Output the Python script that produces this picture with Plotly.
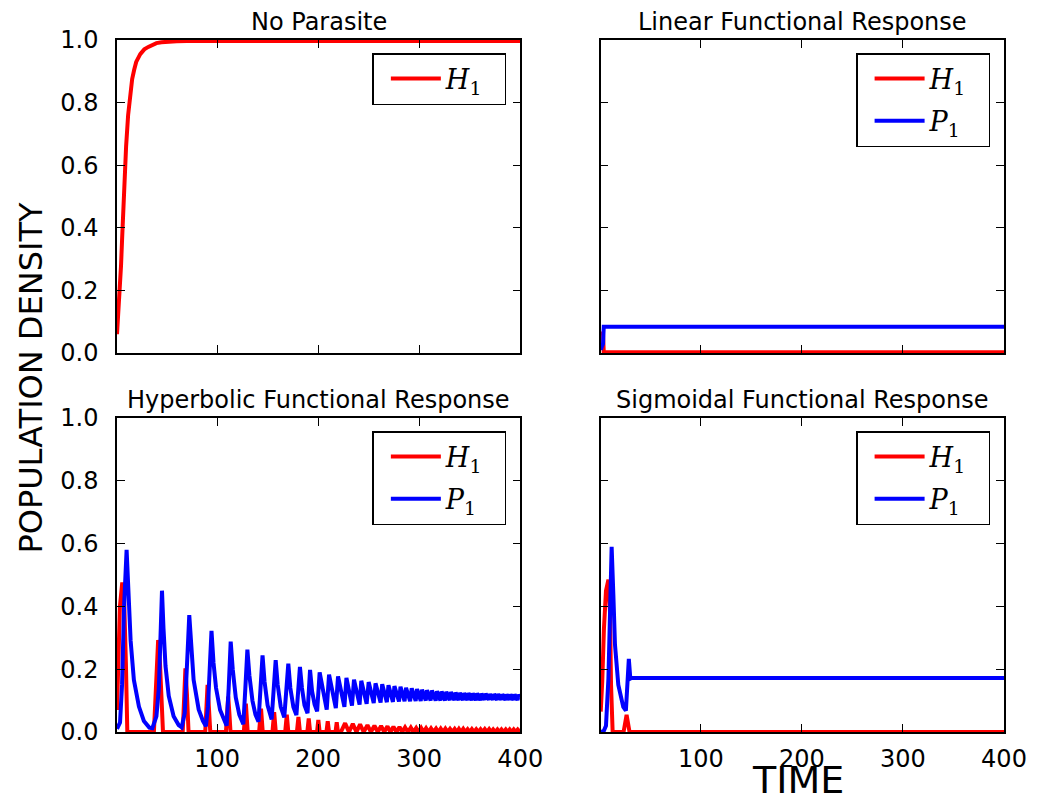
import plotly.graph_objects as go

# ---------------- data ----------------
# No Parasite
np_t = [1, 2, 3, 4, 5, 6, 7, 8, 9, 10, 12, 14, 16, 18, 20, 24, 28, 32, 36, 40, 45, 50, 60, 70, 100, 200, 300, 400]
np_H = [0.06, 0.11, 0.16, 0.21, 0.28, 0.36, 0.45, 0.53, 0.60, 0.66, 0.76, 0.83, 0.875, 0.905, 0.93, 0.955,
        0.97, 0.978, 0.985, 0.99, 0.993, 0.995, 0.996, 0.997, 0.997, 0.997, 0.997, 0.997]

# Linear functional response
lin_t = [1, 3.3, 4, 400]
lin_H = [0.065, 0.06, 0.002, 0.002]
lin_P = [0.01, 0.03, 0.084, 0.084]

# Hyperbolic functional response - first cycles traced point by point
hyp_P_t0 = [1, 4, 6, 8, 10.5, 12.5, 14.5, 17.7, 22.7, 27.6, 33, 36, 40, 42.4, 44, 45.5, 47, 49, 52.2, 57, 62, 65,
            68, 70, 71.5, 72.5, 74.5, 76.8, 81.8, 86, 89, 91, 93, 94.5, 96.5, 99, 103, 106.5, 109.5, 111.5, 113.5,
            115.5, 118.5, 122, 126, 128, 130, 132, 135, 138, 141, 143, 145, 147, 150, 154, 156.2, 158, 160, 163,
            166.5, 168.8, 170.5, 172.5, 175.5, 178.5, 180.5, 182, 184, 186.5, 189.5, 191, 192, 194, 196.5, 199]
hyp_P0 = [0.01, 0.03, 0.15, 0.40, 0.58, 0.42, 0.29, 0.166, 0.081, 0.035, 0.014, 0.012, 0.05, 0.14, 0.34, 0.45,
          0.33, 0.21, 0.115, 0.05, 0.022, 0.015, 0.06, 0.17, 0.30, 0.372, 0.26, 0.166, 0.072, 0.035, 0.018, 0.08,
          0.22, 0.322, 0.22, 0.14, 0.07, 0.038, 0.02, 0.14, 0.288, 0.2, 0.11, 0.055, 0.025, 0.14, 0.262, 0.18, 0.1,
          0.055, 0.033, 0.14, 0.244, 0.16, 0.085, 0.04, 0.14, 0.229, 0.15, 0.08, 0.047, 0.14, 0.218, 0.14, 0.08,
          0.054, 0.14, 0.207, 0.14, 0.085, 0.06, 0.14, 0.198, 0.13, 0.088, 0.066]
# later cycles: peaks and the trough that follows each
hyp_peak_t = [201.5, 210.8, 219.7, 228, 235.5, 242.7, 250, 256.8, 263.4, 269.6, 275.5, 281.5, 287, 292.6, 297.9,
              302.8, 307.7, 312.6, 317.6, 322.2, 326.8, 331.4, 336, 340.2, 344.5, 348.8, 353, 357.3, 361.6, 365.8,
              370.1, 374.1, 378.3, 382.3, 386.5, 390.4, 394.4, 398.4]
hyp_peak_P = [0.19, 0.183, 0.177, 0.172, 0.167, 0.163, 0.159, 0.155, 0.152, 0.149, 0.146, 0.144, 0.141, 0.139,
              0.137, 0.135, 0.133, 0.132, 0.13, 0.129, 0.128, 0.127, 0.126, 0.125, 0.124, 0.124, 0.123, 0.123,
              0.122, 0.122, 0.121, 0.121, 0.121, 0.12, 0.12, 0.12, 0.12, 0.119]
hyp_trough_t = [208.5, 217.5, 226, 233.5, 241, 248, 255, 261.8, 268, 274, 280, 285.5, 291, 296.5, 301.5, 306.5,
                311.3, 316.3, 321, 325.6, 330.2, 334.8, 339, 343.3, 347.6, 351.8, 356.1, 360.4, 364.6, 368.9, 373,
                377.1, 381.2, 385.3, 389.3, 393.3, 397.3, 400]
hyp_trough_P = [0.071, 0.076, 0.08, 0.084, 0.087, 0.09, 0.092, 0.094, 0.095, 0.096, 0.097, 0.098, 0.098, 0.099,
                0.099, 0.1, 0.1, 0.1, 0.1, 0.1, 0.101, 0.101, 0.101, 0.101, 0.101, 0.101, 0.101, 0.101, 0.102,
                0.102, 0.102, 0.102, 0.102, 0.102, 0.102, 0.102, 0.102, 0.11]

hyp_H_t0 = [1, 2, 3.9, 6.2, 8, 9.8, 11.2, 37.5, 39.5, 41.7, 43.5, 45, 46.5, 66, 67.5, 68.7, 70.2, 71.8, 88.3, 89.6,
            90.6, 91.9, 93.3, 108.8, 110, 111, 112.2, 113.3, 126.5, 128.5, 130.3, 141.6, 143.5, 145.2, 154.8,
            156.5, 158.1, 167.4, 169, 170.5, 179, 180.5, 182, 189.3, 190.7, 192.1, 198.9, 200.2, 201.5, 208.2,
            209.5, 210.8, 217.2, 218.4, 219.6]
hyp_H0 = [0.07, 0.24, 0.40, 0.476, 0.43, 0.22, 0.0, 0.0, 0.12, 0.293, 0.22, 0.07, 0.0, 0.0, 0.1, 0.203, 0.12, 0.0,
          0.0, 0.08, 0.15, 0.08, 0.0, 0.0, 0.06, 0.113, 0.06, 0.0, 0.0, 0.09, 0.0, 0.0, 0.074, 0.0, 0.0, 0.063, 0.0,
          0.0, 0.055, 0.0, 0.0, 0.048, 0.0, 0.0, 0.043, 0.0, 0.0, 0.038, 0.0, 0.0, 0.034, 0.0, 0.0, 0.031, 0.0]
hyp_Hzero_t = [222.5, 230.5, 237.9, 245.1, 252.2, 259, 265.4, 271.5, 277.5, 283.2, 288.8, 294.3, 299.4, 304.3,
               309.2, 314.2, 319, 323.6, 328.2, 332.8, 337.2, 341.4, 345.7, 350, 354.2, 358.5, 362.8, 367, 371.2,
               375.3, 379.4, 383.5, 387.5, 391.5, 395.5]
hyp_Hpeak_t = [226.7, 234.3, 241.5, 248.8, 255.7, 262.3, 268.6, 274.5, 280.5, 286, 291.7, 297, 301.9, 306.8, 311.7,
               316.7, 321.3, 325.9, 330.5, 335.1, 339.3, 343.6, 347.9, 352.1, 356.4, 360.7, 364.9, 369.2, 373.2,
               377.4, 381.4, 385.6, 389.5, 393.5, 397.5]
hyp_Hpeak = [0.028, 0.026, 0.024, 0.022, 0.02, 0.019, 0.018, 0.017, 0.016, 0.015, 0.014, 0.013, 0.013, 0.012,
             0.012, 0.011, 0.011, 0.011, 0.01, 0.01, 0.01, 0.01, 0.009, 0.009, 0.009, 0.009, 0.009, 0.009, 0.008,
             0.008, 0.008, 0.008, 0.008, 0.008, 0.008]

# Sigmoidal functional response
sig_H_t = [1, 2.5, 4.2, 6.2, 8.6, 10.2, 11.2, 12.8, 23.6, 26.6, 29.5, 400]
sig_H = [0.065, 0.16, 0.33, 0.45, 0.485, 0.38, 0.15, 0.0, 0.0, 0.055, 0.0, 0.0]
sig_P_t = [1, 4, 6.2, 8.6, 10.2, 11.8, 13.5, 15.1, 18.4, 23.3, 25.9, 27.3, 28.8, 30.3, 31.5, 60, 400]
sig_P = [0.0, 0.003, 0.02, 0.17, 0.38, 0.59, 0.437, 0.278, 0.15, 0.08, 0.068, 0.15, 0.233, 0.17, 0.172, 0.172, 0.172]

# ---------------- assemble the long hyperbolic series ----------------
hyp_P_t = list(hyp_P_t0)
hyp_P = list(hyp_P0)
for a, b, c, d in zip(hyp_peak_t, hyp_peak_P, hyp_trough_t, hyp_trough_P):
    hyp_P_t += [a, c]
    hyp_P += [b, d]

hyp_H_t = list(hyp_H_t0)
hyp_H = list(hyp_H0)
for z, p, v in zip(hyp_Hzero_t, hyp_Hpeak_t, hyp_Hpeak):
    hyp_H_t += [z, p]
    hyp_H += [0.0, v]
hyp_H_t += [400]
hyp_H += [0.0]

RED = "#ff0000"
BLUE = "#0000ff"
LW = 4
H_NAME = "<i>H</i><sub>1</sub>&nbsp;&nbsp;"
P_NAME = "<i>P</i><sub>1</sub>&nbsp;&nbsp;"

fig = go.Figure()

panels = [
    # (xaxis, yaxis, legend, [(t, y, color, name), ...])
    ("x", "y", "legend", [(np_t, np_H, RED, H_NAME)]),
    ("x2", "y2", "legend2", [(lin_t, lin_H, RED, H_NAME), (lin_t, lin_P, BLUE, P_NAME)]),
    ("x3", "y3", "legend3", [(hyp_H_t, hyp_H, RED, H_NAME), (hyp_P_t, hyp_P, BLUE, P_NAME)]),
    ("x4", "y4", "legend4", [(sig_H_t, sig_H, RED, H_NAME), (sig_P_t, sig_P, BLUE, P_NAME)]),
]
for xa, ya, lg, series in panels:
    for t, y, col, name in series:
        fig.add_trace(go.Scatter(x=t, y=y, mode="lines", name=name, xaxis=xa, yaxis=ya, legend=lg,
                                 legendgroup=lg + name, showlegend=True,
                                 line=dict(color=col, width=LW)))

# geometry: pixels of the 1039x805 picture; the page body adds an 8px margin
OFF = 8
W, H = 1039 - OFF, 805 - OFF
L, R, T, B = 117 - OFF, 1010 - OFF, 40 - OFF, 732 - OFF
pw, ph = R - L, B - T


def px(x):
    return (x - OFF - L) / pw


def py(y):
    return (B - (y - OFF)) / ph


xl = [0, px(523)]
xr = [px(604), 1]
yt = [py(353), 1]
yb = [0, py(418)]

ax = dict(showline=True, linecolor="black", linewidth=1.5, mirror="ticks", ticks="inside", ticklen=8,
          tickwidth=1.2, tickcolor="black", showgrid=False, zeroline=False,
          tickfont=dict(family="DejaVu Sans", size=24, color="black"))
xt = dict(range=[1, 400], tickvals=[100, 200, 300, 400], ticklabeloverflow="allow", ticklabelstandoff=4)
ytk = dict(range=[0, 1], tickvals=[0, 0.2, 0.4, 0.6, 0.8, 1.0], tickformat=".1f", ticklabelstandoff=12)

fig.update_layout(
    width=W, height=H, showlegend=True,
    margin=dict(l=L, r=W - R, t=T, b=H - B, pad=0),
    paper_bgcolor="white", plot_bgcolor="white",
    font=dict(family="DejaVu Sans", color="black"),
    xaxis=dict(domain=xl, anchor="y", showticklabels=False, **xt, **ax),
    yaxis=dict(domain=yt, anchor="x", **ytk, **ax),
    xaxis2=dict(domain=xr, anchor="y2", showticklabels=False, **xt, **ax),
    yaxis2=dict(domain=yt, anchor="x2", showticklabels=False, **ytk, **ax),
    xaxis3=dict(domain=xl, anchor="y3", **xt, **ax),
    yaxis3=dict(domain=yb, anchor="x3", **ytk, **ax),
    xaxis4=dict(domain=xr, anchor="y4", **xt, **ax),
    yaxis4=dict(domain=yb, anchor="x4", showticklabels=False, **ytk, **ax),
)

leg = dict(xanchor="right", yanchor="top", bgcolor="white", bordercolor="black", borderwidth=1.5,
           font=dict(family="DejaVu Serif", size=27, color="black"), itemwidth=50, indentation=12,
           tracegroupgap=4)
fig.update_layout(
    legend=dict(x=px(509), y=py(53), **leg),
    legend2=dict(x=px(996), y=py(53), **leg),
    legend3=dict(x=px(509), y=py(431), **leg),
    legend4=dict(x=px(996), y=py(431), **leg),
)

titles = [("No Parasite", xl, yt), ("Linear Functional Response", xr, yt),
          ("Hyperbolic Functional Response", xl, yb), ("Sigmoidal Functional Response", xr, yb)]
for text, dx, dy in titles:
    fig.add_annotation(text=text, x=(dx[0] + dx[1]) / 2, y=dy[1], xref="paper", yref="paper",
                       xanchor="center", yanchor="bottom", yshift=2, showarrow=False,
                       font=dict(family="DejaVu Sans", size=24, color="black"))

fig.add_annotation(text="POPULATION DENSITY", x=px(30), y=py(378), xref="paper", yref="paper",
                   textangle=-90, showarrow=False, xanchor="center", yanchor="middle",
                   font=dict(family="DejaVu Sans", size=32, color="black"))
fig.add_annotation(text="TIME", x=px(803), y=py(780), xref="paper", yref="paper",
                   showarrow=False, xanchor="center", yanchor="middle",
                   font=dict(family="DejaVu Sans", size=38, color="black"))

fig.write_html("out.html")
